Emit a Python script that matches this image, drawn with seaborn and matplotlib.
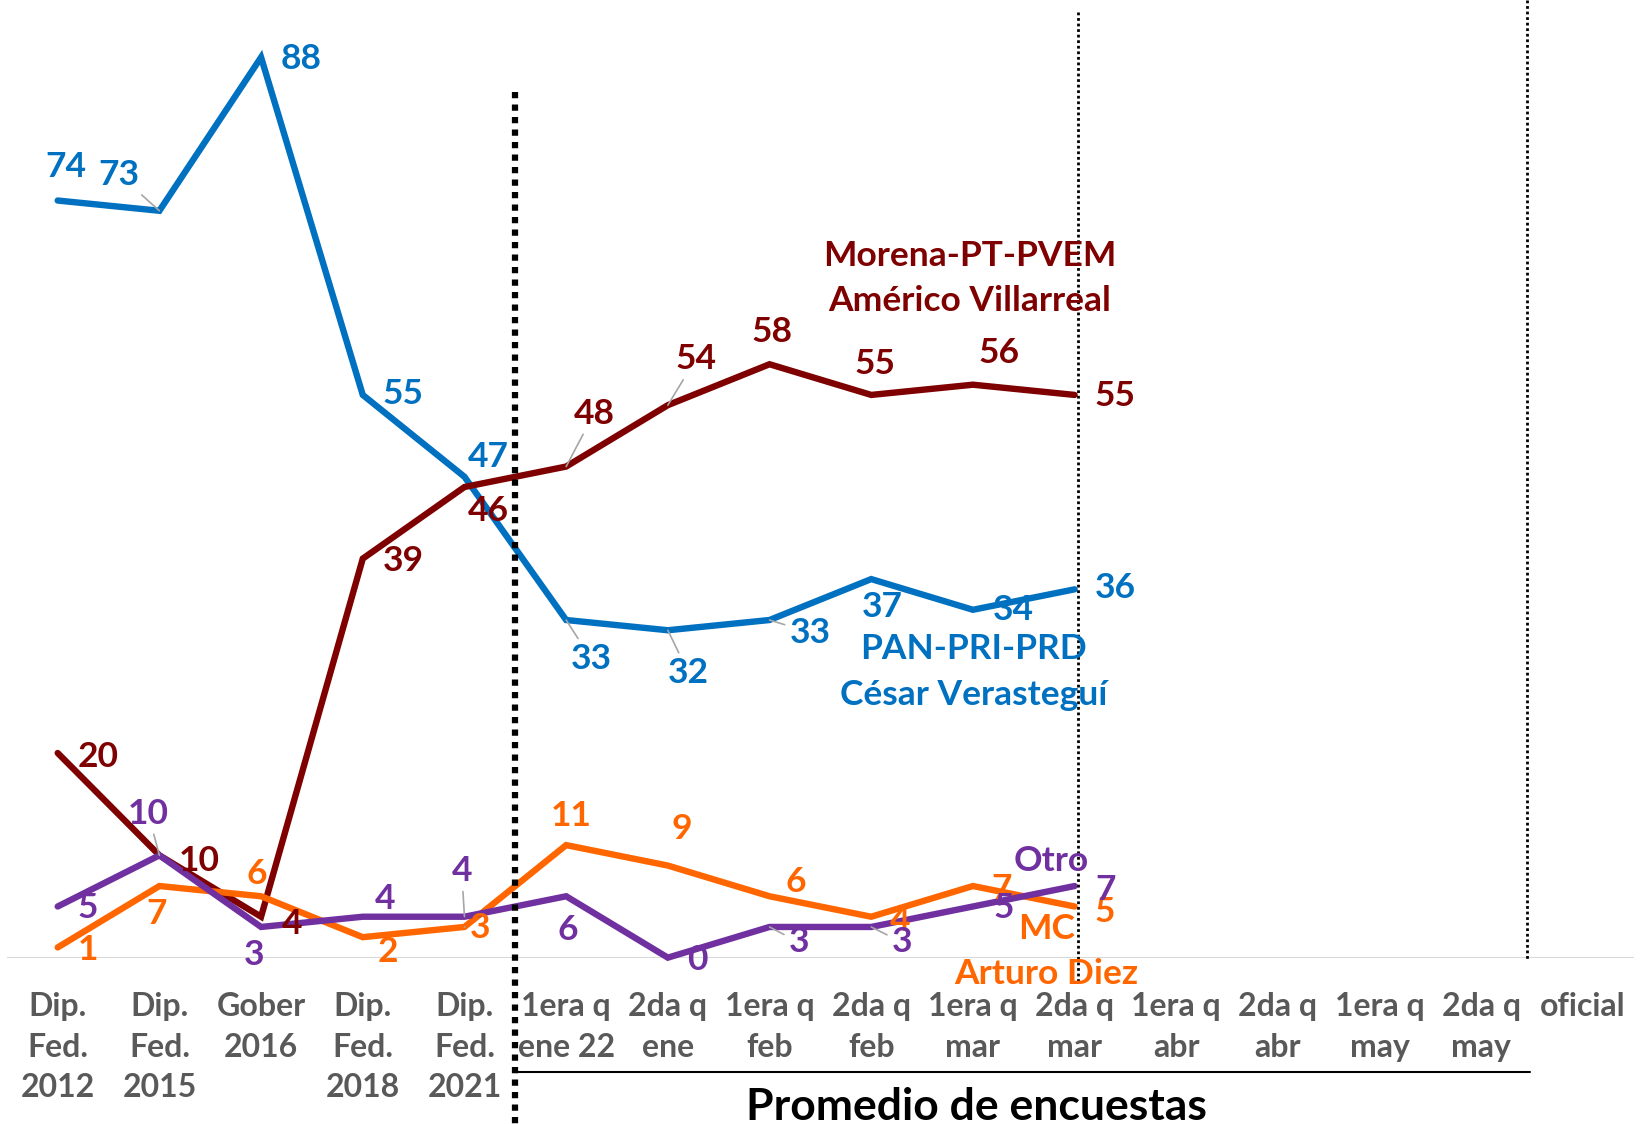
import pandas as pd
import matplotlib.pyplot as plt
import seaborn as sns

# Categories along the x axis
categories = ["Dip.\nFed.\n2012", "Dip.\nFed.\n2015", "Gober\n2016", "Dip.\nFed.\n2018",
              "Dip.\nFed.\n2021", "1era q\nene 22", "2da q\nene", "1era q\nfeb",
              "2da q\nfeb", "1era q\nmar", "2da q\nmar", "1era q\nabr", "2da q\nabr",
              "1era q\nmay", "2da q\nmay", "oficial"]

# Values per coalition (only the first 11 periods have data)
pan = [74, 73, 88, 55, 47, 33, 32, 33, 37, 34, 36]
morena = [20, 10, 4, 39, 46, 48, 54, 58, 55, 56, 55]
mc = [1, 7, 6, 2, 3, 11, 9, 6, 4, 7, 5]
otro = [5, 10, 3, 4, 4, 6, 0, 3, 3, 5, 7]

series_names = ["PAN-PRI-PRD", "Morena-PT-PVEM", "MC", "Otro"]
series_values = [pan, morena, mc, otro]

blue = "#0070C0"
maroon = "#7F0000"
orange = "#FF6600"
purple = "#7030A0"
grey_text = "#595959"
colors = [blue, maroon, orange, purple]

# Label offsets in points (dx, dy) for each data label
pan_off = [(6, 24), (-29, 26), (29, -1), (29, 1), (17, 14), (18, -28), (15, -31),
           (29, -9), (8, -20), (29, 0), (29, 1)]
morena_off = [(29, -3), (29, -4), (22, -5), (29, -2), (17, -17), (20, 38), (20, 33),
              (2, 23), (3, 22), (19, 23), (29, -1)]
mc_off = [(22, -2), (-2, -20), (-3, 16), (18, -11), (11, -1), (4, 21), (10, 26),
          (19, 10), (21, -3), (21, -2), (22, -4)]
otro_off = [(22, -1), (-8, 30), (-5, -20), (16, 13), (-2, 33), (1, -24), (21, -2),
            (21, -11), (22, -11), (22, -1), (22, -3)]
offsets = [pan_off, morena_off, mc_off, otro_off]

# Labels that have a grey leader line in the original
leaders = {0: [1, 5, 6, 7], 1: [5, 6], 2: [4], 3: [1, 4, 7, 8]}

rows = []
for name, vals in zip(series_names, series_values):
    for i, v in enumerate(vals):
        rows.append({"pos": i, "valor": v, "serie": name})
df = pd.DataFrame(rows)

sns.set_theme(style="white")
plt.rcParams["font.family"] = ["Lato", "DejaVu Sans"]
plt.rcParams["font.weight"] = "bold"

fig = plt.figure(figsize=(16.46, 11.24), dpi=100)
ax = fig.add_axes([0.00416, 0.148, 0.9885, 0.852])

sns.lineplot(data=df, x="pos", y="valor", hue="serie", hue_order=series_names,
             palette=colors, linewidth=4.6, legend=False, ax=ax)
for line in ax.lines:
    line.set_clip_on(False)
    line.set_solid_joinstyle("miter")
    line.set_solid_capstyle("round")

ax.set_xlim(-0.5, 15.5)
ax.set_ylim(0, 93.6)
ax.axhline(0, color="#D9D9D9", lw=1.5, zorder=0)

# Data labels
for k, (vals, offs, col) in enumerate(zip(series_values, offsets, colors)):
    for i, (v, (dx, dy)) in enumerate(zip(vals, offs)):
        props = None
        if i in leaders[k]:
            props = dict(arrowstyle="-", color="#A6A6A6", lw=1.2, shrinkA=1, shrinkB=0)
        ax.annotate(str(v), xy=(i, v), xytext=(dx, dy), textcoords="offset points",
                    ha="center", va="center", fontsize=25.5, fontweight="bold",
                    color=col, arrowprops=props, annotation_clip=False)

# Series names
ax.text(8.97, 66.4, "Morena-PT-PVEM\nAmérico Villarreal", color=maroon, fontsize=25.5,
        fontweight="bold", ha="center", va="center", linespacing=1.52)
ax.text(9.01, 27.9, "PAN-PRI-PRD\nCésar Verasteguí", color=blue, fontsize=25.5,
        fontweight="bold", ha="center", va="center", linespacing=1.52)
ax.text(9.77, 9.45, "Otro", color=purple, fontsize=25.5, fontweight="bold",
        ha="center", va="center")
ax.text(9.72, 0.6, "MC\nArturo Diez", color=orange, fontsize=25.5, fontweight="bold",
        ha="center", va="center", linespacing=1.52, clip_on=False)

# Dotted separators
ax.plot([4.5, 4.5], [84.6, -16.5], color="black", lw=4.5, linestyle=(0, (1, 1)),
        dash_capstyle="butt", clip_on=False)
ax.plot([10.03, 10.03], [92.4, -2.3], color="black", lw=2, linestyle=(0, (1, 1)),
        dash_capstyle="butt", clip_on=False)
ax.plot([14.45, 14.45], [93.6, -0.3], color="black", lw=2, linestyle=(0, (1, 1)),
        dash_capstyle="butt", clip_on=False)

# Bracket for the poll average section
ax.plot([4.49, 14.48], [-11.2, -11.2], color="black", lw=1.5, clip_on=False)
ax.text(9.03, -14.6, "Promedio de encuestas", color="black", fontsize=32,
        fontweight="bold", ha="center", va="center", clip_on=False)

ax.set_xticks(range(len(categories)))
ax.set_xticklabels(categories, color=grey_text, fontsize=23, fontweight="bold",
                   linespacing=1.48)
ax.tick_params(axis="x", length=0, pad=25)
ax.set_yticks([])
ax.set_xlabel("")
ax.set_ylabel("")
for s in ax.spines.values():
    s.set_visible(False)

fig.savefig("out.png", dpi=100)
